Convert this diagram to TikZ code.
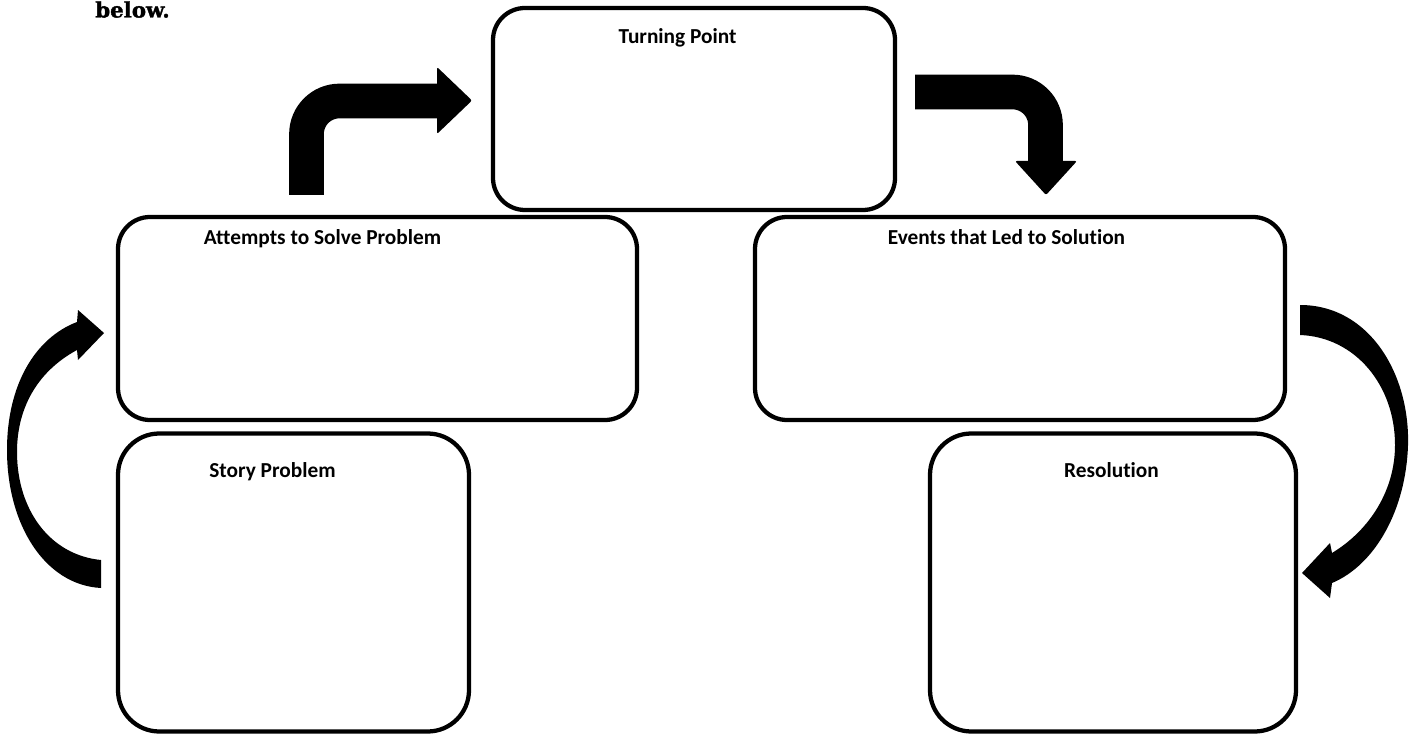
\documentclass[tikz,border=0pt]{standalone}
\usepackage{fontspec}
\setmainfont{Carlito}[Ligatures=NoCommon]
\newfontfamily\belowfont{DejaVu Serif}[BoldFeatures={FakeBold=1.5}]

\tikzset{
    box/.style={draw, line width=3.2pt, rounded corners=24pt, inner sep=0pt, outer sep=0pt},
    bigbox/.style={box, rounded corners=31pt, minimum height=223.5pt},
    title/.style={anchor=base, inner sep=0pt, font=\fontsize{16}{19}\selectfont\bfseries},
    bent/.style={line width=26pt, rounded corners=24.75pt}
}

\begin{document}
\begin{tikzpicture}[x=0.75pt, y=-0.75pt]
    \useasboundingbox (0,0) rectangle (1413,734);
    \node [anchor=base west, inner sep=0pt, font=\belowfont\bfseries\fontsize{16}{19}\selectfont] (below) at (95,17.5) {below.};

    \node [box, minimum width=301.5pt, minimum height=151.5pt] (turning) at (694,109) {};
    \node [box, minimum width=389.25pt, minimum height=152.25pt] (attempts) at (377.5,318.5) {};
    \node [box, minimum width=397.5pt, minimum height=152.25pt] (events) at (1020,318.5) {};
    \node [bigbox, minimum width=263.25pt] (story) at (293.5,582.5) {};
    \node [bigbox, minimum width=274.5pt] (resolution) at (1113,582.5) {};

    \node [title] (turninglbl) at (677.5,44) {Turning Point};
    \node [title] (attemptslbl) at (322.5,245) {Attempts to Solve Problem};
    \node [title] (eventslbl) at (1006.5,245) {Events that Led to Solution};
    \node [title] (storylbl) at (272.5,477) {Story Problem};
    \node [title] (resolutionlbl) at (1111.5,477) {Resolution};

    \coordinate (upstart) at (306.5,195);
    \coordinate (upend) at (438,101);
    \draw [bent] (upstart) |- (upend);
    \fill [rounded corners=1.5pt] (437,67) -- (472,100.5) -- (437,134) -- cycle;

    \coordinate (downstart) at (915,92);
    \coordinate (downend) at (1045.5,162);
    \draw [bent] (downstart) -| (downend);
    \fill [rounded corners=1.5pt] (1015,161) -- (1046,195) -- (1077,161) -- cycle;

    \fill (101,588) .. controls (45,585) and (7,525) .. (7,450) .. controls (7,385) and (35,338) .. (77,322)
        -- (78,310) -- (104,333) -- (78,360) -- (77,350)
        .. controls (40,370) and (17,405) .. (17,452) .. controls (17,510) and (50,555) .. (101,560) -- cycle;

    \fill (1300,305) .. controls (1370,305) and (1410,375) .. (1408,445) .. controls (1406,510) and (1375,565) .. (1332,583)
        -- (1330,598) -- (1302,573) -- (1330,543) -- (1332,553)
        .. controls (1370,530) and (1395,490) .. (1395,445) .. controls (1395,385) and (1355,337) .. (1300,335) -- cycle;
\end{tikzpicture}
\end{document}
